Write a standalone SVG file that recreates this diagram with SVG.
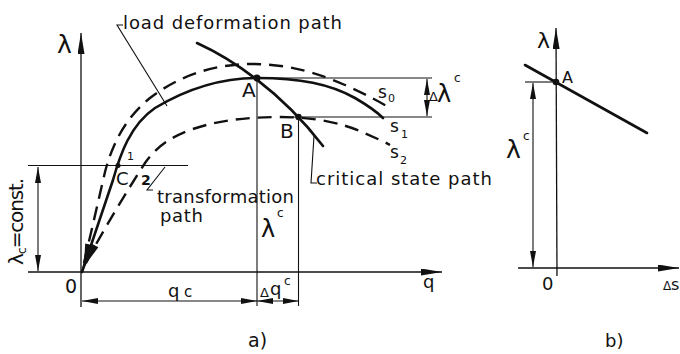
<svg xmlns="http://www.w3.org/2000/svg" width="680" height="354" viewBox="0 0 680 354">
<style>
text{font-family:"DejaVu Sans","Liberation Sans",sans-serif;fill:#111}
.thin{fill:none;stroke:#111;stroke-width:1.1}
.axis{fill:none;stroke:#111;stroke-width:1.3}
.thick{fill:none;stroke:#111;stroke-width:2.6;stroke-linecap:round}
.dash{fill:none;stroke:#111;stroke-width:2.4;stroke-dasharray:14 8}
.ah{fill:#111}
</style>
<defs>
<marker id="dim" viewBox="0 0 16 6" refX="16" refY="3" markerWidth="16" markerHeight="6" markerUnits="userSpaceOnUse" orient="auto-start-reverse"><path d="M0,0 L16,3 L0,6 z" fill="#111"/></marker>
<marker id="ax" viewBox="0 0 21 7" refX="21" refY="3.5" markerWidth="21" markerHeight="7" markerUnits="userSpaceOnUse" orient="auto"><path d="M0,0 L21,3.5 L0,7 z" fill="#111"/></marker>
</defs>

<g id="fig-a">
  <g id="axes-a">
    <path class="axis" d="M81,307 L81,33" marker-end="url(#ax)"/>
    <path class="axis" d="M28,272 L442,272" marker-end="url(#ax)"/>
    <path class="thin" d="M28,165.5 L188,165.5"/>
  </g>
  <g id="connectors">
    <path class="thin" d="M38,167 L38,271" marker-start="url(#dim)" marker-end="url(#dim)"/>
    <path class="thin" d="M257,78 L257,306"/>
    <path class="thin" d="M298.5,117 L298.5,306"/>
    <path class="thin" d="M82,301 L257,301" marker-start="url(#dim)" marker-end="url(#dim)"/>
    <path class="thin" d="M257,301 L298.5,301" marker-start="url(#dim)" marker-end="url(#dim)"/>
    <path class="thin" d="M257,78 L432,78 M292,117 L432,117"/>
    <path class="thin" d="M427,79 L427,116" marker-start="url(#dim)" marker-end="url(#dim)"/>
    <polyline class="thin" points="123,25 117,25 167,106"/>
    <polyline class="thin" points="317,183 311,183 314,136"/>
    <polyline class="thin" points="153,190 147,190 165,167"/>
  </g>
  <g id="curves">
    <path id="s1" class="thick" d="M82,272 L113,180 C120,155 130,125 155,108 C185,90 220,78 257,78 C300,78 330,84 355,98 C367,105 376,111 383,118"/>
    <path id="s0" class="dash" d="M84,263 L105,172 C112,145 125,118 150,98 C180,75 215,64 252,64 C290,64 320,74 345,85 C365,94 378,101 390,108"/>
    <path id="s2" class="dash" d="M86,263 C95,245 118,205 145,163 C158,145 170,138 190,130 C215,121 245,117 280,117 C315,117 340,123 360,131 C373,137 383,141 390,145"/>
    <path id="critical" class="thick" d="M197,43 C230,58 280,90 323,146"/>
    <polygon class="ah" points="82,272 91.7,254.2 85.1,252"/>
    <polygon class="ah" points="84,264 92,245 85.2,243.4"/>
    <polygon class="ah" points="86.2,263.5 98.4,247.2 92.1,244.1"/>
    <circle cx="257" cy="78" r="3.5" fill="#111"/>
    <circle cx="298.5" cy="117" r="3.2" fill="#111"/>
    <circle cx="118" cy="165.5" r="2.5" fill="#111"/>
  </g>
  <g id="labels-a">
    <text x="57" y="53" font-size="25">λ</text>
    <text x="123" y="29" font-size="18" textLength="219" lengthAdjust="spacing">load deformation path</text>
    <text x="242" y="97" font-size="20">A</text>
    <text x="280" y="138" font-size="20">B</text>
    <text x="429" y="101" font-size="13">Δ</text>
    <text x="437" y="102" font-size="24">λ</text>
    <text x="454" y="82" font-size="12">c</text>
    <text x="378" y="98" font-size="17">s</text>
    <text x="388" y="102" font-size="11">0</text>
    <text x="390" y="132" font-size="17">s</text>
    <text x="401" y="138" font-size="11">1</text>
    <text x="390" y="158" font-size="17">s</text>
    <text x="400" y="164" font-size="11">2</text>
    <text x="316" y="185" font-size="18" textLength="176" lengthAdjust="spacing">critical state path</text>
    <text x="157" y="203" font-size="18" textLength="137" lengthAdjust="spacing">transformation</text>
    <text x="160" y="222" font-size="18" textLength="43" lengthAdjust="spacing">path</text>
    <text x="116" y="185" font-size="18">C</text>
    <text x="127" y="160" font-size="11">1</text>
    <text x="141" y="185" font-size="14" font-weight="bold">2</text>
    <text x="65" y="293" font-size="19">0</text>
    <text x="168" y="297" font-size="18">q</text>
    <text x="184" y="297" font-size="15">c</text>
    <text x="260" y="297" font-size="13">Δ</text>
    <text x="270" y="295" font-size="18">q</text>
    <text x="284" y="285" font-size="12">c</text>
    <text x="423" y="288" font-size="18">q</text>
    <text x="261" y="237" font-size="24">λ</text>
    <text x="277" y="217" font-size="12">c</text>
    <text transform="translate(23,265) rotate(-90)" font-size="20" textLength="87" lengthAdjust="spacing">λ<tspan font-size="13" dy="3">c</tspan><tspan dy="-3">=const.</tspan></text>
    <text x="248" y="347" font-size="19">a)</text>
  </g>
</g>

<g id="fig-b">
  <g id="axes-b">
    <path class="axis" d="M557,276 L556,28" marker-end="url(#ax)"/>
    <path class="axis" d="M518,268 L679,268" marker-end="url(#ax)"/>
  </g>
  <g id="connectors-b">
    <path class="thin" d="M525,82 L556,82"/>
    <path class="thin" d="M533,83 L533,267" marker-start="url(#dim)" marker-end="url(#dim)"/>
  </g>
  <path class="thick" d="M525,65 L647,133" stroke-width="3"/>
  <circle cx="556" cy="82" r="3.3" fill="#111"/>
  <g id="labels-b">
    <text x="537" y="48" font-size="22">λ</text>
    <text x="562" y="83" font-size="16">A</text>
    <text x="506" y="158" font-size="25">λ</text>
    <text x="523" y="140" font-size="12">c</text>
    <text x="542" y="290" font-size="18">0</text>
    <text x="663" y="290" font-size="12">Δ</text>
    <text x="671" y="290" font-size="16">s</text>
    <text x="605" y="347" font-size="18">b)</text>
  </g>
</g>
</svg>
